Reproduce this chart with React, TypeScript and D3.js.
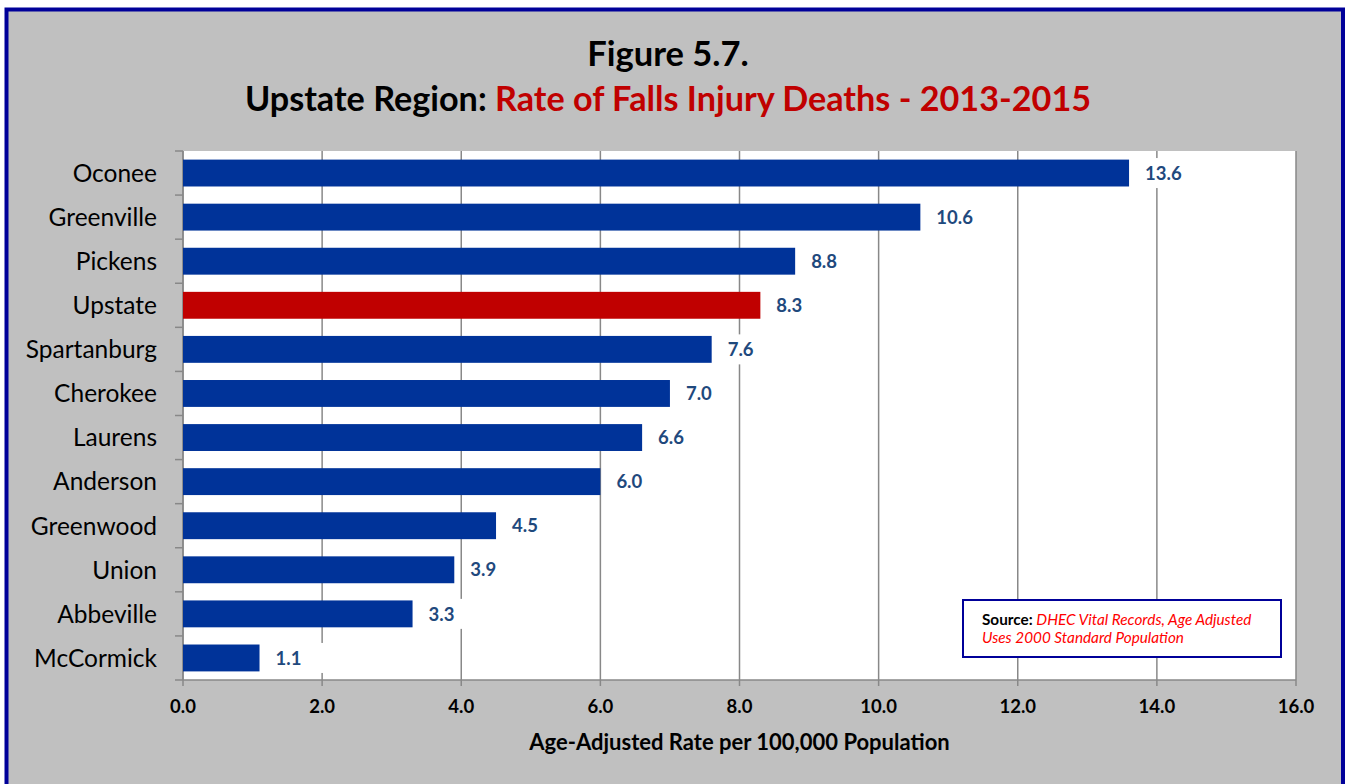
import React from "react";
import * as d3 from "d3";

const categories = ["Oconee", "Greenville", "Pickens", "Upstate", "Spartanburg", "Cherokee", "Laurens", "Anderson", "Greenwood", "Union", "Abbeville", "McCormick"];
const values = [13.6, 10.6, 8.8, 8.3, 7.6, 7.0, 6.6, 6.0, 4.5, 3.9, 3.3, 1.1];
const highlight = "Upstate";
const xTicks = [0, 2, 4, 6, 8, 10, 12, 14, 16];

const W = 1349;
const H = 784;
const FONT = "Lato, 'Open Sans', sans-serif";

export default function App() {
  const left = 183, right = 1296, top = 151, bottom = 680;
  const x = d3.scaleLinear().domain([0, 16]).range([left, right]);
  const y = d3.scaleBand<string>().domain(categories).range([top, bottom]).paddingInner(0.39).paddingOuter(0.195);
  const step = y.step();
  const bounds = d3.range(categories.length + 1).map((i) => top + i * step);

  return (
    <svg width={W} height={H} style={{ position: "absolute", left: 0, top: 0, display: "block" }} fontFamily={FONT}>
      <rect x={0} y={0} width={W} height={H} fill="#ffffff" />
      <rect x={6.5} y={9.5} width={1336.5} height={H} fill="#c0c0c0" stroke="#000099" strokeWidth={4} />
      <text x={668} y={66} textAnchor="middle" fontSize={34.5} fontWeight="bold" fill="#000">Figure 5.7.</text>
      <text x={668} y={111} textAnchor="middle" fontSize={34.2} fontWeight="bold">
        <tspan fill="#000">Upstate Region: </tspan>
        <tspan fill="#c00000">Rate of Falls Injury Deaths - 2013-2015</tspan>
      </text>

      <rect x={left} y={top} width={right - left} height={bottom - top} fill="#ffffff" />
      {xTicks.map((t) => (
        <line key={"g" + t} x1={x(t)} x2={x(t)} y1={top} y2={bottom + 6} stroke="#888888" strokeWidth={1.5} />
      ))}
      <line x1={left} x2={right} y1={bottom} y2={bottom} stroke="#888888" strokeWidth={1.5} />
      <line x1={left} x2={left} y1={top} y2={bottom} stroke="#888888" strokeWidth={1.5} />
      {bounds.map((b, i) => (
        <line key={"yt" + i} x1={left - 8} x2={left} y1={b} y2={b} stroke="#888888" strokeWidth={1.5} />
      ))}

      {categories.map((c, i) => {
        const v = values[i];
        const yy = y(c)!;
        const bw = y.bandwidth();
        const xe = x(v);
        return (
          <g key={c}>
            <rect x={left} y={yy} width={xe - left} height={bw} fill={c === highlight ? "#c00000" : "#003399"} />
            <rect x={xe + 8} y={yy + bw / 2 - 15} width={56} height={30} fill="#ffffff" />
            <text x={xe + 16} y={yy + bw / 2} dy="0.36em" fontSize={18.5} fontWeight="bold" fill="#1f497d">{v.toFixed(1)}</text>
            <text x={157} y={yy + bw / 2} dy="0.36em" textAnchor="end" fontSize={24.5} fill="#000">{c}</text>
          </g>
        );
      })}

      {xTicks.map((t) => (
        <text key={"xl" + t} x={x(t)} y={706} dy="0.36em" textAnchor="middle" fontSize={18.5} fontWeight="bold" fill="#000">{t.toFixed(1)}</text>
      ))}
      <text x={(left + right) / 2} y={742} dy="0.36em" textAnchor="middle" fontSize={22} fontWeight="bold" fill="#000">Age-Adjusted Rate per 100,000 Population</text>

      <rect x={963} y={600} width={318} height={57} fill="#ffffff" stroke="#000099" strokeWidth={2} />
      <text x={982} y={625} fontSize={15.3} fill="#000">
        <tspan fontWeight="bold">Source: </tspan>
        <tspan fill="#ff0000" fontStyle="italic">DHEC Vital Records, Age Adjusted</tspan>
      </text>
      <text x={982} y={643} fontSize={15.3} fill="#ff0000" fontStyle="italic">Uses 2000 Standard Population</text>
    </svg>
  );
}
